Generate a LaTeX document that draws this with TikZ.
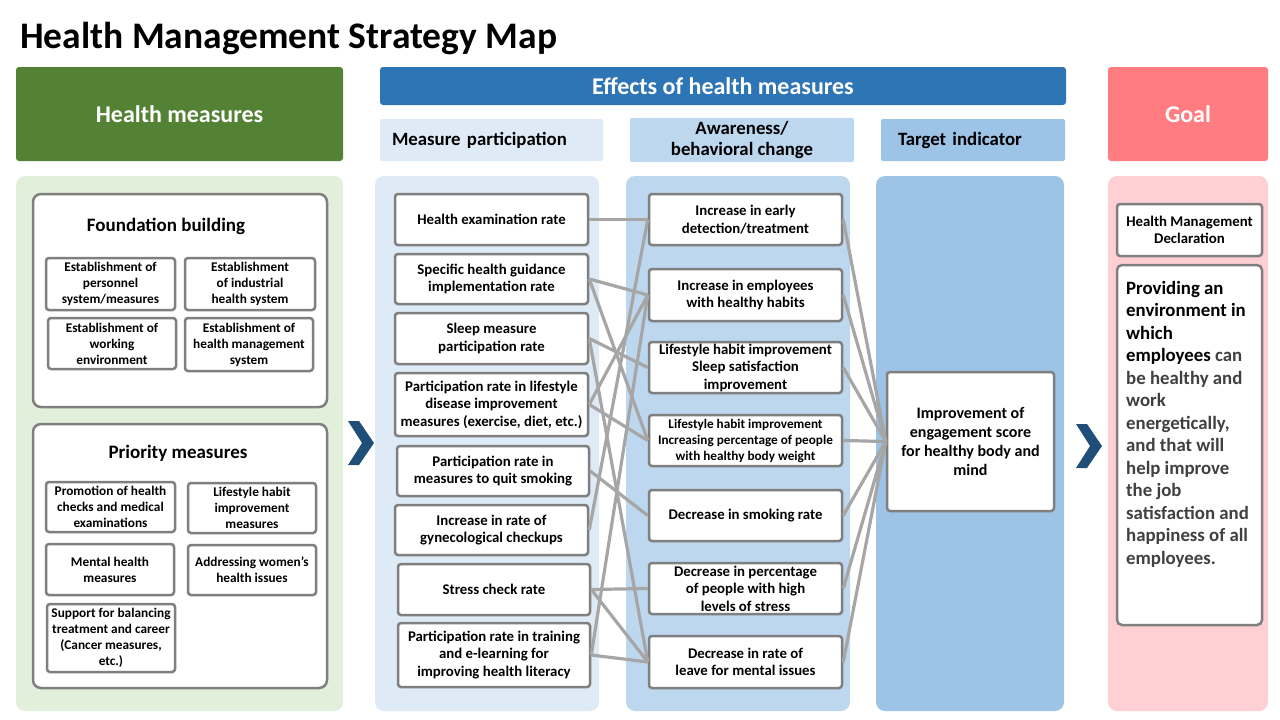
\documentclass[tikz,border=0pt]{standalone}
\usepackage{fontspec}
\setmainfont{Carlito}

\definecolor{measgreen}{HTML}{548235}
\definecolor{panelgreen}{HTML}{E2EFDA}
\definecolor{effblue}{HTML}{2E75B6}
\definecolor{blueone}{HTML}{DEEBF7}
\definecolor{bluetwo}{HTML}{BDD7EE}
\definecolor{bluethree}{HTML}{9DC3E6}
\definecolor{goalred}{HTML}{FF7C80}
\definecolor{goalpink}{HTML}{FFD0D3}
\definecolor{boxgray}{HTML}{7F7F7F}
\definecolor{linkgray}{HTML}{A6A6A6}
\definecolor{chevblue}{HTML}{1F4E79}
\definecolor{goaltext}{HTML}{404040}

\begin{document}
\begin{tikzpicture}[x=1pt,y=-1pt,
    head/.style={fill=#1,rounded corners=3pt,text=white,font=\bfseries\fontsize{24}{28}\selectfont},
    subhead/.style={fill=#1,rounded corners=2pt,font=\bfseries\fontsize{18.8}{21}\selectfont,align=center},
    panel/.style={fill=#1,rounded corners=9pt},
    group/.style={draw=boxgray,line width=2.5pt,rounded corners=8pt,fill=white},
    box/.style={draw=boxgray,line width=2.5pt,rounded corners=3pt,fill=white,align=center,inner sep=1pt,
      font=\bfseries\fontsize{14.8}{17.5}\selectfont},
    small/.style={box,font=\bfseries\fontsize{13.3}{16}\selectfont},
    link/.style={draw=linkgray,line width=3.2pt},
  ]
  \useasboundingbox (0,0) rectangle (1280,720);

  % title
  \node[anchor=base west,inner sep=0pt,font=\bfseries\fontsize{37.5}{40}\selectfont] (title) at (20,48) {Health Management Strategy Map};

  % headers
  \node[head=measgreen,minimum width=327pt,minimum height=94pt] (hm) at (179.5,114) {Health measures};
  \node[head=effblue,minimum width=686pt,minimum height=38pt] (eff) at (723,86) {Effects of health measures};
  \node[head=goalred,minimum width=160pt,minimum height=94pt] (goal) at (1188,114) {Goal};
  \node[subhead=blueone,minimum width=223pt,minimum height=42pt,text width=199pt,align=left] (sub1) at (491.5,140) {Measure participation};
  \node[subhead=bluetwo,minimum width=224pt,minimum height=42pt] (sub2) at (742,140) {Awareness/\\behavioral change};
  \node[subhead=bluethree,minimum width=184pt,minimum height=42pt,text width=150pt,align=left] (sub3) at (973,140) {Target indicator};

  % panels
  \node[panel=panelgreen,minimum width=327pt,minimum height=535pt] (pgreen) at (179.5,443.5) {};
  \node[panel=blueone,minimum width=224pt,minimum height=535pt] (pone) at (487,443.5) {};
  \node[panel=bluetwo,minimum width=224pt,minimum height=535pt] (ptwo) at (738,443.5) {};
  \node[panel=bluethree,minimum width=188pt,minimum height=535pt] (pthree) at (970,443.5) {};
  \node[panel=goalpink,minimum width=160pt,minimum height=535pt] (pgoal) at (1188,443.5) {};

  % health measures
  \node[group,minimum width=294pt,minimum height=213pt] (found) at (180,300.5) {};
  \node[font=\bfseries\fontsize{19}{22}\selectfont] (foundt) at (166,226) {Foundation building};
  \node[small,minimum width=129pt,minimum height=52pt] (fa) at (110.5,284) {Establishment of\\personnel\\system/measures};
  \node[small,minimum width=130pt,minimum height=52pt] (fb) at (250,284) {Establishment\\of industrial\\health system};
  \node[small,minimum width=128pt,minimum height=51pt] (fc) at (112,343.5) {Establishment of\\working\\environment};
  \node[small,minimum width=128pt,minimum height=53pt] (fd) at (249,344.5) {Establishment of\\health management\\system};

  \node[group,minimum width=294pt,minimum height=264pt] (prio) at (180,556) {};
  \node[font=\bfseries\fontsize{19}{22}\selectfont] (priot) at (178,453) {Priority measures};
  \node[small,minimum width=129pt,minimum height=50pt] (pa) at (110.5,507) {Promotion of health\\checks and medical\\examinations};
  \node[small,minimum width=128pt,minimum height=50pt] (pb) at (252,508) {Lifestyle habit\\improvement\\measures};
  \node[small,minimum width=128pt,minimum height=51pt] (pc) at (110,569.5) {Mental health\\measures};
  \node[small,minimum width=128pt,minimum height=50pt] (pd) at (252,570) {Addressing women’s\\health issues};
  \node[small,minimum width=128pt,minimum height=68pt] (pe) at (111,638) {Support for balancing\\treatment and career\\(Cancer measures,\\etc.)};

  % measure participation
  \node[box,minimum width=193pt,minimum height=51pt] (m1) at (491.5,219.5) {Health examination rate};
  \node[box,minimum width=193pt,minimum height=50pt] (m2) at (491.5,279) {Specific health guidance\\implementation rate};
  \node[box,minimum width=193pt,minimum height=51pt] (m3) at (491.5,338.5) {Sleep measure\\participation rate};
  \node[box,minimum width=193pt,minimum height=63pt] (m4) at (491.5,404.5) {Participation rate in lifestyle\\disease improvement\\measures (exercise, diet, etc.)};
  \node[box,minimum width=192pt,minimum height=50pt] (m5) at (493,471) {Participation rate in\\measures to quit smoking};
  \node[box,minimum width=193pt,minimum height=50pt] (m6) at (491.5,530) {Increase in rate of\\gynecological checkups};
  \node[box,minimum width=192pt,minimum height=51pt] (m7) at (494,589.5) {Stress check rate};
  \node[box,minimum width=192pt,minimum height=64pt] (m8) at (494,655) {Participation rate in training\\and e-learning for\\improving health literacy};

  % awareness / behavioral change
  \node[box,minimum width=193pt,minimum height=51pt] (a1) at (745.5,219.5) {Increase in early\\detection/treatment};
  \node[box,minimum width=193pt,minimum height=52pt] (a2) at (745.5,295) {Increase in employees\\with healthy habits};
  \node[box,minimum width=193pt,minimum height=51pt] (a3) at (745.5,367.5) {Lifestyle habit improvement\\Sleep satisfaction\\improvement};
  \node[box,minimum width=193pt,minimum height=51pt,font=\bfseries\fontsize{13.2}{16}\selectfont] (a4) at (745.5,440.5) {Lifestyle habit improvement\\Increasing percentage of people\\with healthy body weight};
  \node[box,minimum width=193pt,minimum height=51pt] (a5) at (745.5,515.5) {Decrease in smoking rate};
  \node[box,minimum width=193pt,minimum height=51pt] (a6) at (745.5,588.5) {Decrease in percentage\\of people with high\\levels of stress};
  \node[box,minimum width=193pt,minimum height=52pt] (a7) at (745.5,662) {Decrease in rate of\\leave for mental issues};

  % target indicator
  \node[box,minimum width=167pt,minimum height=139pt,font=\bfseries\fontsize{16}{19}\selectfont] (target) at (970.5,441.5) {Improvement of\\engagement score\\for healthy body and\\mind};

  % goal
  \node[box,minimum width=145pt,minimum height=52pt] (decl) at (1189.5,230) {Health Management\\Declaration};
  \node[group,rounded corners=5pt,minimum width=145pt,minimum height=360pt] (goalbox) at (1189.5,445) {};
  \node[anchor=north west,inner sep=0pt,align=left,font=\bfseries\fontsize{18.8}{22.5}\selectfont] (goaltxt) at (1126,281)
    {Providing an\\environment in\\which\\employees \textcolor{goaltext}{can}\\\textcolor{goaltext}{be healthy and}\\\textcolor{goaltext}{work}\\\textcolor{goaltext}{energetically,}\\\textcolor{goaltext}{and that will}\\\textcolor{goaltext}{help improve}\\\textcolor{goaltext}{the job}\\\textcolor{goaltext}{satisfaction and}\\\textcolor{goaltext}{happiness of all}\\\textcolor{goaltext}{employees.}};

  % chevrons
  \fill[chevblue] (348,421) -- (359,421) -- (374,443) -- (359,465) -- (348,465) -- (362,443) -- cycle;
  \fill[chevblue] (1076,424) -- (1087,424) -- (1102,446) -- (1087,468) -- (1076,468) -- (1090,446) -- cycle;

  % links participation -> awareness
  \draw[link] (m1.east) -- (a1.west);
  \draw[link] (m2.east) -- (a2.west);
  \draw[link] (m2.east) -- (a4.west);
  \draw[link] (m3.east) -- (a3.west);
  \draw[link] (m3.east) -- (a7.west);
  \draw[link] (m4.east) -- (a2.west);
  \draw[link] (m4.east) -- (a4.west);
  \draw[link] (m5.east) -- (a5.west);
  \draw[link] (m6.east) -- (a1.west);
  \draw[link] (m7.east) -- (a6.west);
  \draw[link] (m7.east) -- (a7.west);
  \draw[link] (m8.east) -- (a2.west);
  \draw[link] (m8.east) -- (a7.west);

  % links awareness -> target
  \foreach \i in {1,...,7}
    \draw[link] (a\i.east) -- (target.west);
\end{tikzpicture}
\end{document}
